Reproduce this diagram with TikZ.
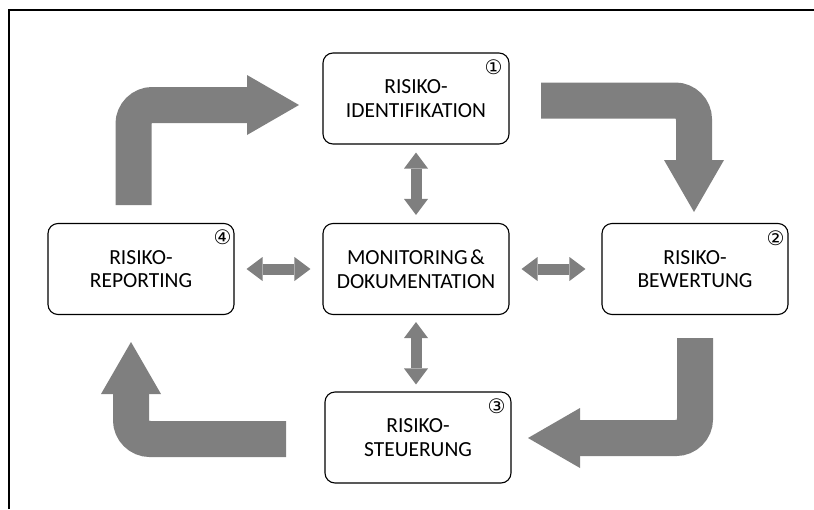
\documentclass[tikz,border=0pt]{standalone}
\usepackage{fontspec}
\setmainfont{Carlito}
\newfontfamily\circledfont{DejaVu Sans}
\usetikzlibrary{arrows.meta,calc}
\definecolor{flowgray}{HTML}{7F7F7F}
\begin{document}
\begin{tikzpicture}[x=1pt,y=-1pt,
  stepbox/.style={draw, line width=1.1pt, rounded corners=10pt,
    minimum width=186pt, minimum height=91pt, align=center, inner sep=0pt,
    font=\fontsize{21.5}{23.5}\selectfont},
  numlabel/.style={inner sep=0pt, font=\circledfont\fontsize{20}{20}\selectfont},
  cycle arrow/.style={draw=flowgray, line width=36pt, rounded corners=19pt,
    -{Triangle[length=52pt,width=60pt,line width=0pt]}},
  link arrow/.style={draw=flowgray, line width=11pt,
    {Triangle[length=16pt,width=24pt,line width=0pt]}-{Triangle[length=16pt,width=24pt,line width=0pt]}},
]
\useasboundingbox (0,0) rectangle (814,509);

% outer frame (top and left edges)
\draw[line width=2pt] (8.5,509) -- (8.5,10) -- (814,10);

% process steps
\node[stepbox] (ident) at (416,98.5)  {RISIKO-\\IDENTIFIKATION};
\node[stepbox] (mon)   at (416,269)   {MONITORING\hspace{0.12em}\&\\DOKUMENTATION};
\node[stepbox] (rep)   at (141,269)   {RISIKO-\\REPORTING};
\node[stepbox] (bew)   at (695,269)   {RISIKO-\\BEWERTUNG};
\node[stepbox] (steu)  at (418,437.5) {RISIKO-\\STEUERUNG};

% step numbers
\node[numlabel] (n1) at ($(ident.north east)+(-16,15)$) {①};
\node[numlabel] (n2) at ($(bew.north east)+(-13,15)$)   {②};
\node[numlabel] (n3) at ($(steu.north east)+(-15,15)$)  {③};
\node[numlabel] (n4) at ($(rep.north east)+(-12,14)$)   {④};

% cycle arrows
\coordinate (c1s) at (133.5,205); \coordinate (c1e) at (299,105);
\coordinate (c2s) at (541,100.5); \coordinate (c2e) at (694,212);
\coordinate (c3s) at (695,338);   \coordinate (c3e) at (528,438);
\coordinate (c4s) at (286,439);   \coordinate (c4e) at (131,342);
\draw[cycle arrow] (c1s) |- (c1e);
\draw[cycle arrow] (c2s) -| (c2e);
\draw[cycle arrow] (c3s) |- (c3e);
\draw[cycle arrow] (c4s) -| (c4e);

% links to monitoring
\draw[link arrow, shorten <=8pt, shorten >=8pt] (ident.south) -- (mon.north);
\draw[link arrow, shorten <=7pt, shorten >=7pt] (mon.south) -- (mon.south |- steu.north);
\draw[link arrow, shorten <=12pt, shorten >=12pt] (rep.east) -- (mon.west);
\draw[link arrow, shorten <=12pt, shorten >=16pt] (mon.east) -- (bew.west);
\end{tikzpicture}
\end{document}
